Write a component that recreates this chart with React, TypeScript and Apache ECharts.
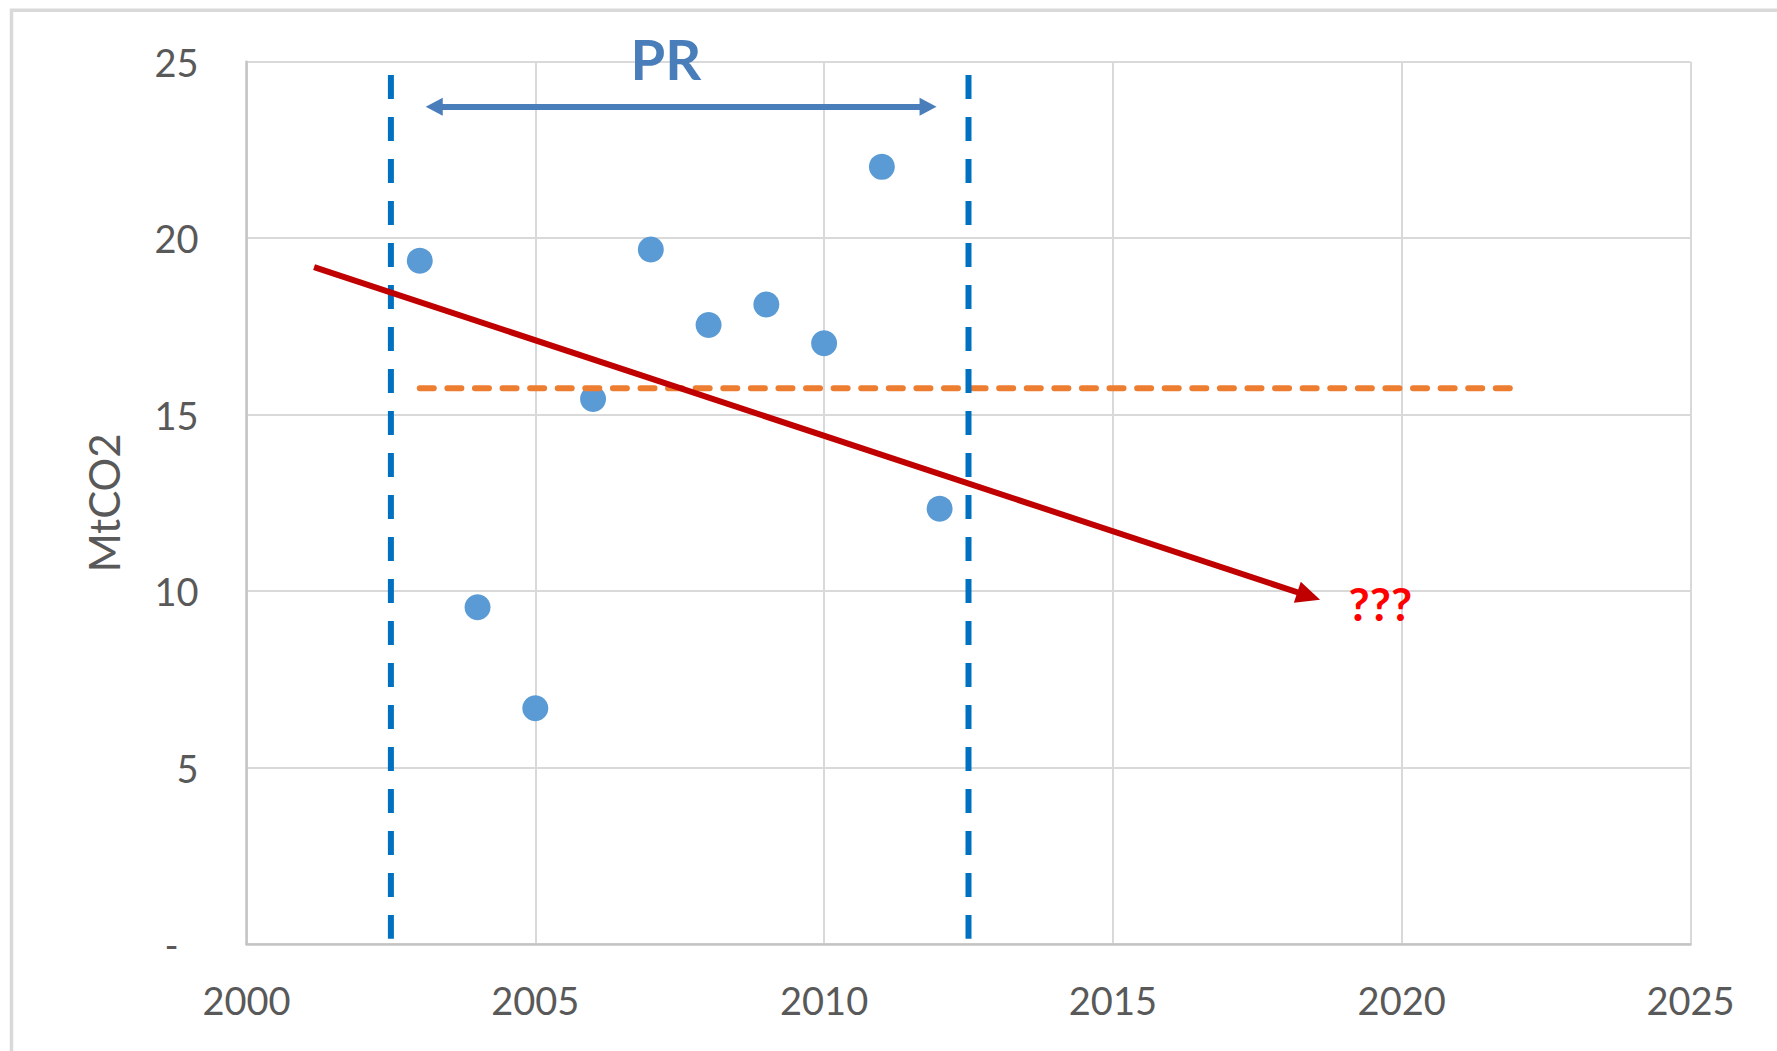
import React, { useEffect, useRef } from "react";
import * as echarts from "echarts";

// ---- data ----
const years = [2003, 2004, 2005, 2006, 2007, 2008, 2009, 2010, 2011, 2012];
const emissions = [19.36, 9.54, 6.68, 15.44, 19.68, 17.54, 18.12, 17.02, 22.02, 12.33];

const xMin = 2000;
const xMax = 2025;
const xStep = 5;
const yMin = 0;
const yMax = 25;
const yStep = 5;

// mean line (orange dashed)
const meanLineYears = [2003, 2022];
const meanValue = 15.75;

// period bounds (blue dashed verticals)
const periodBounds = [2002.5, 2012.5];
const periodLineRange = [24.62, 0.15];

// PR double arrow
const prArrowYears = [2003.25, 2011.8];
const prArrowValue = 23.72;

// trend arrow (red)
const trendStart = [2001.17, 19.18];
const trendEnd = [2018.39, 9.86];

// annotations
const prLabelPos = [2007.26, 25];
const qLabelPos = [2019.63, 9.66];

const LABEL_COLOR = "#595959";

export default function App() {
  const ref = useRef<HTMLDivElement>(null);

  useEffect(() => {
    if (!ref.current) return;
    const chart = echarts.init(ref.current, undefined, { renderer: "svg" });

    const option: any = {
      animation: false,
      backgroundColor: "#ffffff",
      graphic: [
        {
          type: "rect",
          shape: { x: 11.5, y: 10.3, width: 2000, height: 2000 },
          style: { fill: "none", stroke: "#d9d9d9", lineWidth: 3.5 },
          silent: true,
          z: -10,
        },
      ],
      grid: {
        left: 246.5,
        right: 1777 - 1690.5,
        top: 61.7,
        bottom: 1051 - 944,
        containLabel: false,
      },
      xAxis: {
        type: "value",
        min: xMin,
        max: xMax,
        interval: xStep,
        axisLine: { show: true, lineStyle: { color: "#c4c4c4", width: 2.5 } },
        axisTick: { show: false },
        axisLabel: {
          color: LABEL_COLOR,
          fontSize: 38,
          fontFamily: "Lato",
          margin: 37,
          formatter: (v: number) => String(v),
        },
        splitLine: { show: true, lineStyle: { color: "#d9d9d9", width: 2 } },
      },
      yAxis: {
        type: "value",
        min: yMin,
        max: yMax,
        interval: yStep,
        name: "MtCO2",
        nameLocation: "middle",
        nameRotate: 90,
        nameGap: 122,
        nameTextStyle: { color: LABEL_COLOR, fontSize: 42, fontFamily: "Lato" },
        axisLine: { show: true, lineStyle: { color: "#c4c4c4", width: 2.5 } },
        axisTick: { show: false },
        axisLabel: {
          color: LABEL_COLOR,
          fontSize: 38,
          fontFamily: "Lato",
          margin: 48,
          formatter: (v: number) => (v === 0 ? "{d|-}" : String(v)),
          rich: {
            d: { color: LABEL_COLOR, fontSize: 38, fontFamily: "Lato", padding: [0, 20, 0, 0] },
          },
        },
        splitLine: { show: true, lineStyle: { color: "#d9d9d9", width: 2 } },
      },
      series: [
        {
          type: "scatter",
          name: "emissions",
          data: years.map((y, i) => [y, emissions[i]]),
          symbol: "circle",
          symbolSize: 26,
          itemStyle: { color: "#5B9BD5", opacity: 1 },
          silent: true,
          z: 2,
          markPoint: {
            silent: true,
            symbol: "circle",
            symbolSize: 0,
            data: [
              {
                coord: prLabelPos,
                label: {
                  show: true,
                  position: "inside",
                  offset: [0, -3],
                  formatter: "PR",
                  color: "#4A7EBB",
                  fontSize: 56,
                  fontWeight: "bold",
                  fontFamily: "Lato",
                },
              },
              {
                coord: qLabelPos,
                label: {
                  show: true,
                  position: "inside",
                  formatter: "???",
                  color: "#FF0000",
                  fontSize: 46,
                  fontWeight: "bold",
                  fontFamily: "Lato",
                },
              },
            ],
          },
        },
        {
          type: "line",
          name: "mean",
          data: meanLineYears.map((y) => [y, meanValue]),
          symbol: "none",
          silent: true,
          z: 3,
          lineStyle: { color: "#ED7D31", width: 6, type: [14, 13.59], cap: "round" },
        },
        ...periodBounds.map((x) => ({
          type: "line",
          name: "period" + x,
          data: periodLineRange.map((v) => [x, v]),
          symbol: "none",
          silent: true,
          z: 4,
          lineStyle: { color: "#0070C0", width: 6, type: [24, 18], cap: "butt" },
        })),
        {
          type: "line",
          name: "arrows",
          data: [],
          silent: true,
          z: 5,
          markLine: {
            silent: true,
            animation: false,
            label: { show: false },
            emphasis: { disabled: true },
            data: [
              [
                {
                  coord: [prArrowYears[0], prArrowValue],
                  symbol: "triangle",
                  symbolSize: [18, 17],
                  lineStyle: { color: "#4A7EBB", width: 6, type: "solid" },
                },
                {
                  coord: [prArrowYears[1], prArrowValue],
                  symbol: "triangle",
                  symbolSize: [18, 17],
                },
              ],
              [
                {
                  coord: trendStart,
                  symbol: "none",
                  lineStyle: { color: "#C00000", width: 6, type: "solid" },
                },
                {
                  coord: trendEnd,
                  symbol: "triangle",
                  symbolSize: [22, 24],
                },
              ],
            ],
          },
        },
      ],
    };

    chart.setOption(option);
    return () => chart.dispose();
  }, []);

  return (
    <div
      ref={ref}
      style={{ position: "absolute", left: 0, top: 0, width: 1777, height: 1051, background: "#fff" }}
    />
  );
}
